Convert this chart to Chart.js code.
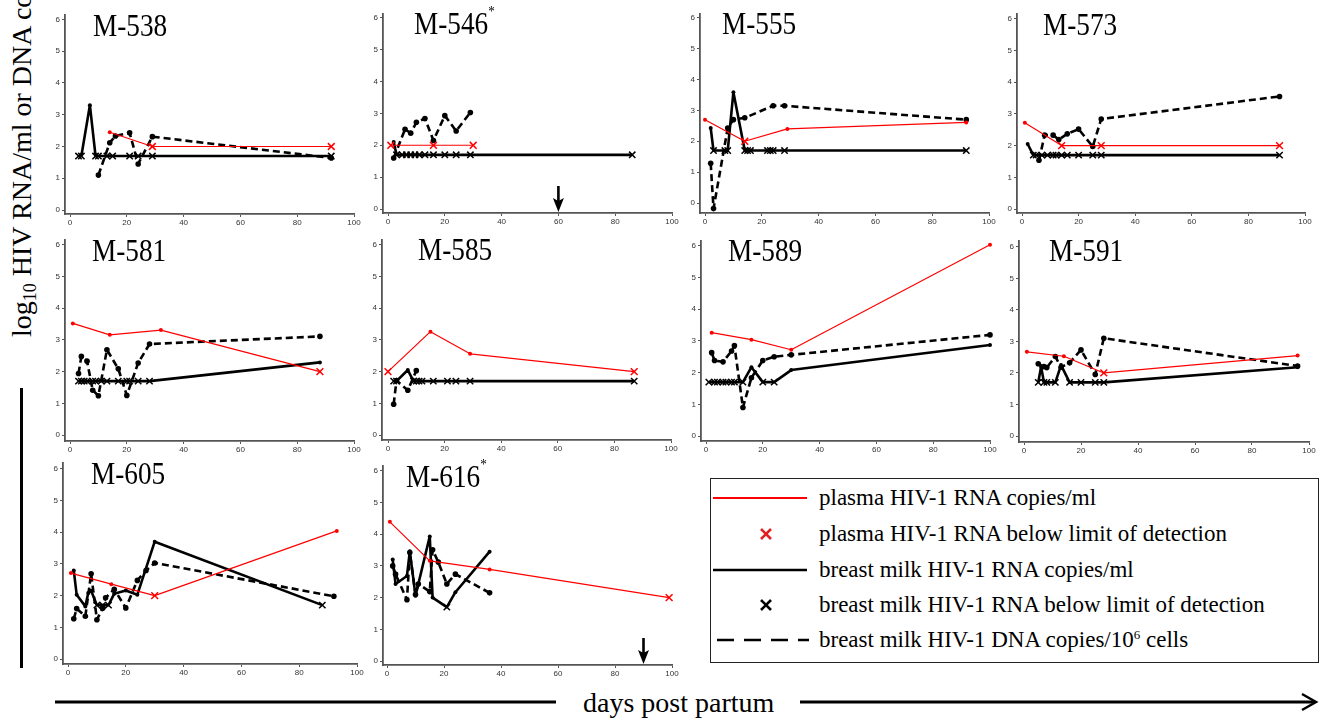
<!DOCTYPE html>
<html><head><meta charset="utf-8">
<script src="https://cdn.jsdelivr.net/npm/chart.js@4.4.1/dist/chart.umd.min.js"></script>
<style>
html,body{margin:0;padding:0;background:#fff;}
body{width:1319px;height:722px;overflow:hidden;position:relative;font-family:"Liberation Serif","DejaVu Serif",serif;color:#000;}
canvas{position:absolute;}
.title{position:absolute;font-size:31px;line-height:1;white-space:nowrap;transform-origin:0 0;transform:scaleX(0.88);}
.title sup{font-size:15px;vertical-align:top;position:relative;top:-4px;}
#ylab{position:absolute;left:8px;top:337px;font-size:28px;line-height:1;white-space:nowrap;transform-origin:0 0;transform:rotate(-90deg);}
#ylab sub{font-size:18px;vertical-align:-5px;}
#ylab sup{font-size:16px;vertical-align:top;}
#xlab{position:absolute;left:583px;top:689px;font-size:28px;line-height:1;white-space:nowrap;}
#legend{position:absolute;left:710px;top:478px;width:607px;height:183px;border:1px solid #222;}
.lt{position:absolute;left:108px;font-size:23px;line-height:1;white-space:nowrap;}
.lt sup{font-size:13px;vertical-align:top;}
</style></head><body>

<div id="ylab">log<sub>10</sub> HIV RNA/ml or DNA copies/10<sup>6</sup> cells</div>
<div style="position:absolute;left:20px;top:388px;width:3px;height:280px;background:#000;"></div>
<div id="xlab">days post partum</div>
<svg style="position:absolute;left:0;top:0;" width="1319" height="722">
  <line x1="55" y1="702" x2="556" y2="702" stroke="#000" stroke-width="3"/>
  <line x1="800" y1="702" x2="1315" y2="702" stroke="#000" stroke-width="3"/>
  <polyline points="1302,694 1316,702 1302,710" fill="none" stroke="#000" stroke-width="2.5"/>
</svg>

<div id="legend">
  <svg style="position:absolute;left:0;top:0;" width="607" height="183">
    <line x1="2" y1="19" x2="96" y2="19" stroke="#ff0000" stroke-width="2"/>
    <g stroke="#e02020" stroke-width="2.6"><line x1="50" y1="50" x2="60" y2="60"/><line x1="60" y1="50" x2="50" y2="60"/></g>
    <line x1="2" y1="91" x2="96" y2="91" stroke="#000" stroke-width="2.5"/>
    <g stroke="#000" stroke-width="2.6"><line x1="50" y1="121" x2="60" y2="131"/><line x1="60" y1="121" x2="50" y2="131"/></g>
    <line x1="6" y1="161" x2="98" y2="161" stroke="#000" stroke-width="2.5" stroke-dasharray="17 10"/>
  </svg>
  <div class="lt" style="top:7px;">plasma HIV-1 RNA copies/ml</div>
  <div class="lt" style="top:43px;">plasma HIV-1 RNA below limit of detection</div>
  <div class="lt" style="top:79px;">breast milk HIV-1 RNA copies/ml</div>
  <div class="lt" style="top:114px;">breast milk HIV-1 RNA below limit of detection</div>
  <div class="lt" style="top:149px;">breast milk HIV-1 DNA copies/10<sup>6</sup> cells</div>
</div>

<script>
// ---------- DATA (day post partum, log10 value) ----------
const PLASMA_LIMIT = 2.0;   // plasma detection limit (drawn as red x)
const MILK_LIMIT = 1.7;     // breast milk RNA detection limit (drawn as black x)
const X_TICKS = [0, 20, 40, 60, 80, 100];
const Y_TICKS = [0, 1, 2, 3, 4, 5, 6];

const PANEL_NAMES = ['M-538','M-546','M-555','M-573','M-581','M-585','M-589','M-591','M-605','M-616'];
const PANEL_STAR = [false,true,false,false,false,false,false,false,false,true];
const PANEL_ARROW_DAY = [null,60,null,null,null,null,null,null,null,90];

const m538Plasma = [[14,2.45],[29,2],[92,2]];
const m538Rna = [[3,1.7],[4,1.7],[7,3.3],[9,1.7],[10,1.7],[13,1.7],[15,1.7],[21,1.7],[24,1.7],[29,1.7],[92,1.7]];
const m538Dna = [[10,1.1],[14,2.12],[16,2.33],[21,2.43],[24,1.45],[29,2.31],[92,1.64]];

const m546Plasma = [[1,2],[16,2],[30,2]];
const m546Rna = [[2,2.1],[3,1.7],[5,1.7],[6.5,1.7],[8,1.7],[9.5,1.7],[11,1.7],[13,1.7],[16,1.7],[20,1.7],[24,1.7],[29,1.7],[86,1.7]];
const m546Dna = [[2,1.6],[6,2.5],[8,2.38],[10,2.72],[13,2.84],[16,2.15],[20,2.93],[24,2.45],[29,3.03]];

const m555Plasma = [[0,2.7],[14,2],[29,2.4],[92,2.61]];
const m555Rna = [[2,2.43],[3,1.7],[7,1.7],[8,1.7],[10,3.59],[14,1.7],[15,1.7],[16,1.7],[22,1.7],[23,1.7],[24,1.7],[28,1.7],[92,1.7]];
const m555Dna = [[2,1.29],[3,-0.18],[8,2.43],[10,2.7],[14,2.76],[24,3.15],[28,3.15],[92,2.7]];

const m573Plasma = [[1,2.72],[14,2],[28,2],[91,2]];
const m573Rna = [[2,2.05],[4,1.7],[5,1.7],[7,1.7],[9,1.7],[11,1.7],[12,1.7],[14,1.7],[16,1.7],[20,1.7],[25,1.7],[28,1.7],[91,1.7]];
const m573Dna = [[6,1.54],[8,2.33],[11,2.33],[13,2.19],[16,2.37],[20,2.52],[25,1.97],[28,2.84],[91,3.55]];

const m581Plasma = [[1,3.52],[14,3.16],[32,3.31],[88,2]];
const m581Rna = [[3,1.7],[4,1.7],[5,1.7],[6,1.7],[8,1.7],[9,1.7],[11,1.7],[13,1.7],[17,1.7],[20,1.7],[21,1.7],[24,1.7],[28,1.7],[88,2.29]];
const m581Dna = [[3,1.94],[4,2.48],[6,2.33],[8,1.41],[10,1.24],[13,2.69],[17,2.09],[20,1.25],[24,2.27],[28,2.87],[88,3.11]];

const m585Plasma = [[0,2],[15,3.26],[29,2.56],[87,2]];
const m585Rna = [[2,1.7],[3,1.7],[7,2.05],[9,1.7],[10,1.7],[11,1.7],[12,1.7],[16,1.7],[21,1.7],[24,1.7],[29,1.7],[87,1.7]];
const m585Dna = [[2,0.97],[3,1.72],[7,1.41],[10,2.03]];

const m589Plasma = [[2,3.26],[16,3.04],[30,2.72],[100,6.03]];
const m589Rna = [[1,1.7],[3,1.7],[4,1.7],[6,1.7],[7,1.7],[9,1.7],[10,1.7],[13,1.7],[16,2.17],[20,1.7],[24,1.7],[30,2.08],[100,2.87]];
const m589Dna = [[2,2.63],[3,2.38],[6,2.34],[9,2.68],[10,2.85],[13,0.9],[16,1.84],[20,2.38],[24,2.5],[30,2.56],[100,3.19]];

const m591Plasma = [[1,2.67],[14,2.53],[28,2],[96,2.55]];
const m591Rna = [[5,1.7],[6,2.2],[7,1.7],[8,1.7],[11,1.7],[13,2.25],[16,1.7],[20,1.7],[25,1.7],[28,1.7],[96,2.18]];
const m591Dna = [[5,2.29],[7,2.2],[8,2.17],[11,2.52],[13,2.18],[16,2.32],[20,2.73],[25,1.95],[28,3.1],[96,2.22]];

const m605Plasma = [[1,2.71],[15,2.36],[30,2],[93,4.04]];
const m605Rna = [[2,2.79],[3,2.03],[6,1.66],[7,2.08],[8,2.15],[10,1.7],[12,1.7],[14,1.7],[16,2.06],[20,2.16],[24,2.03],[30,3.7],[88,1.7]];
const m605Dna = [[2,1.27],[3,1.59],[6,1.35],[8,2.69],[10,1.24],[12,1.6],[13,1.93],[16,2.2],[20,1.61],[24,2.48],[27,2.79],[30,3.03],[92,1.98]];

const m616Plasma = [[1,4.39],[15,3.16],[36,2.89],[99,2]];
const m616Rna = [[2,3.2],[3,2.43],[7,2.68],[8,3.46],[10,2.06],[15,3.93],[16,2.0],[21,1.7],[24,2.17],[36,3.45]];
const m616Dna = [[2,3.0],[3,2.74],[7,1.93],[8,3.42],[10,2.1],[11,2.43],[15,2.19],[16,3.51],[18,3.12],[21,2.43],[24,2.74],[36,2.15]];

const PLASMA = [m538Plasma,m546Plasma,m555Plasma,m573Plasma,m581Plasma,m585Plasma,m589Plasma,m591Plasma,m605Plasma,m616Plasma];
const MILK_RNA = [m538Rna,m546Rna,m555Rna,m573Rna,m581Rna,m585Rna,m589Rna,m591Rna,m605Rna,m616Rna];
const MILK_DNA = [m538Dna,m546Dna,m555Dna,m573Dna,m581Dna,m585Dna,m589Dna,m591Dna,m605Dna,m616Dna];

// ---------- LAYOUT (pixels): y-axis line x, day0 x, day100 x, axis top y, value0 y, value6 y, x-axis line y ----------
const LAYOUT = [
  [65,70,354,14,210,18.7,214],
  [383,388,672,13,209,17,213],
  [700,705,989,13,203,17,213],
  [1017,1022,1305,13,209,18,213],
  [65,70,354,239,435,244,441],
  [382,388,671,239,435,244,440],
  [701,706,990,240,436,245,441],
  [1019,1024,1309,240,436,246,442],
  [63,68,357,462,659,468,664],
  [383,387,672,465,661,470,665]
];
const TITLE_POS = [[93,36],[414,34],[722,34],[1043,35],[92,261],[418,260],[728,261],[1049,261],[91,484],[406,487]];
const YW = 22, PT = 6, PR = 10, XH = 16;

const arrowPlugin = {
  id: 'arrow',
  afterDatasetsDraw(chart, args, opts) {
    if (opts.day == null) return;
    const ctx = chart.ctx;
    const x = chart.scales.x.getPixelForValue(opts.day);
    const b = chart.chartArea.bottom - 1;
    ctx.save();
    ctx.strokeStyle = '#000'; ctx.fillStyle = '#000'; ctx.lineWidth = 2.6;
    ctx.beginPath(); ctx.moveTo(x, b - 26); ctx.lineTo(x, b - 10); ctx.stroke();
    ctx.beginPath(); ctx.moveTo(x - 5.5, b - 14); ctx.lineTo(x, b - 11); ctx.lineTo(x + 5.5, b - 14); ctx.lineTo(x, b); ctx.closePath(); ctx.fill();
    ctx.restore();
  }
};

function toPts(arr) { return arr.map(p => ({x: p[0], y: p[1]})); }

function seriesDs(arr, limit, color, width, dotR, xR, dash, order) {
  const isX = arr.map(p => limit !== null && p[1] === limit);
  return {
    data: toPts(arr),
    borderColor: color, backgroundColor: color,
    borderWidth: width, borderDash: dash, borderJoinStyle: 'round', borderCapStyle: 'butt',
    pointStyle: isX.map(b => b ? 'crossRot' : 'circle'),
    pointRadius: isX.map(b => b ? xR : dotR),
    pointBorderWidth: isX.map(b => b ? 1.5 : 0),
    pointBackgroundColor: color, pointBorderColor: color,
    pointHoverRadius: 0, tension: 0, order: order, clip: false
  };
}

PANEL_NAMES.forEach((name, i) => {
  const [aL, x0, x100, yTop, y0, y6, aB] = LAYOUT[i];
  const ppx = (x100 - x0) / 100, ppy = (y0 - y6) / 6;
  const xmin = -(x0 - aL) / ppx;
  const ymin = -(aB - y0) / ppy;
  const ymax = 6 + (y6 - yTop) / ppy;
  const W = Math.round(x100 - aL + YW + PR), H = Math.round(aB - yTop + PT + XH);
  const cv = document.createElement('canvas');
  cv.width = W; cv.height = H;
  cv.style.left = (aL - YW) + 'px'; cv.style.top = (yTop - PT) + 'px';
  cv.style.width = W + 'px'; cv.style.height = H + 'px';
  document.body.appendChild(cv);

  const t = document.createElement('div');
  t.className = 'title';
  t.innerHTML = name + (PANEL_STAR[i] ? '<sup>*</sup>' : '');
  t.style.left = TITLE_POS[i][0] + 'px';
  t.style.top = (TITLE_POS[i][1] - 0.8375 * 31) + 'px';
  document.body.appendChild(t);

  const tickFont = {family: '"Liberation Sans", Arial, sans-serif', size: 8};
  new Chart(cv, {
    type: 'line',
    data: {
      datasets: [
        seriesDs(PLASMA[i], PLASMA_LIMIT, '#ff0000', 1.2, 2, 4.8, [], 0),
        seriesDs(MILK_RNA[i], MILK_LIMIT, '#000000', 2.6, 2, 4.5, [], 1),
        seriesDs(MILK_DNA[i], null, '#000000', 2.6, 2.8, 4.5, [7, 4], 2)
      ]
    },
    plugins: [arrowPlugin],
    options: {
      responsive: false, animation: false, devicePixelRatio: 1,
      layout: {padding: {top: PT, right: PR, left: 0, bottom: 0}},
      events: [],
      plugins: {legend: {display: false}, tooltip: {enabled: false}, arrow: {day: PANEL_ARROW_DAY[i]}},
      scales: {
        x: {
          type: 'linear', min: xmin, max: 100,
          afterFit(s) { s.height = XH; },
          afterBuildTicks(s) { s.ticks = X_TICKS.map(v => ({value: v})); },
          ticks: {font: tickFont, color: '#333', padding: 1, maxRotation: 0, autoSkip: false},
          grid: {drawOnChartArea: false, drawTicks: true, tickLength: 3, color: '#555', lineWidth: 1},
          border: {color: '#555', width: 1.8}
        },
        y: {
          type: 'linear', min: ymin, max: ymax,
          afterFit(s) { s.width = YW; },
          afterBuildTicks(s) { s.ticks = Y_TICKS.map(v => ({value: v})); },
          ticks: {font: tickFont, color: '#333', padding: 2, autoSkip: false},
          grid: {drawOnChartArea: false, drawTicks: true, tickLength: 3, color: '#555', lineWidth: 1},
          border: {color: '#555', width: 1.8}
        }
      }
    }
  });
});
</script>
</body></html>
